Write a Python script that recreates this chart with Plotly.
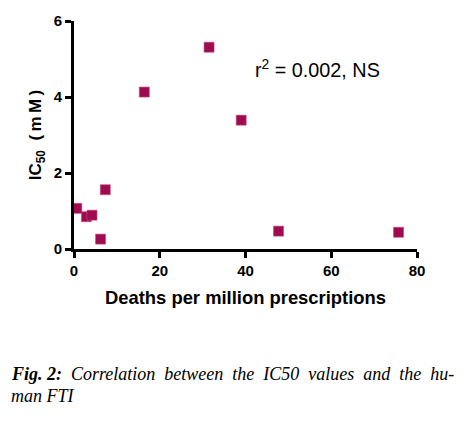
import plotly.graph_objects as go

deaths = [0.65, 2.9, 4.2, 6.2, 7.3, 16.4, 31.5, 39.0, 47.7, 75.7]
ic50 = [1.07, 0.85, 0.89, 0.26, 1.56, 4.13, 5.31, 3.39, 0.47, 0.44]

x_ticks = [0, 20, 40, 60, 80]
y_ticks = [0, 2, 4, 6]

fig = go.Figure()
fig.add_trace(go.Scatter(
    x=deaths, y=ic50, mode="markers",
    marker=dict(symbol="square", size=10, color="#9E0B4E",
                line=dict(width=0.6, color="#C04A7A")),
    showlegend=False, cliponaxis=False,
))

sans = "Arial, Liberation Sans, sans-serif"
axis_font = dict(family=sans, size=15, color="black")

fig.update_layout(
    width=456, height=410,
    margin=dict(l=65.5, r=46.7, t=13, b=169, autoexpand=False),
    paper_bgcolor="white", plot_bgcolor="white",
    font=dict(family=sans, color="black"),
    xaxis=dict(
        range=[0, 80], tickvals=x_ticks, ticktext=[f"<b>{v}</b>" for v in x_ticks],
        showgrid=False, zeroline=False, showline=True, linewidth=3, linecolor="black",
        ticks="outside", ticklen=6, tickwidth=3, tickcolor="black",
        tickfont=axis_font,
        title=dict(text="<b>Deaths per million prescriptions</b>",
                   font=dict(family=sans, size=18.4, color="black"),
                   standoff=14),
        automargin=False,
    ),
    yaxis=dict(
        range=[0, 6], tickvals=y_ticks, ticktext=[f"<b>{v}</b>" for v in y_ticks],
        showgrid=False, zeroline=False, showline=True, linewidth=3, linecolor="black",
        ticks="outside", ticklen=6, tickwidth=3, tickcolor="black",
        tickfont=axis_font,
        title=dict(text="<b>IC<sub>50</sub>&nbsp;&nbsp;(&#8201;m&#8201;M&#8201;)</b>",
                   font=dict(family=sans, size=17, color="black"),
                   standoff=8),
        automargin=False,
    ),
)

fig.add_annotation(
    x=41.8, y=4.76, xref="x", yref="y", xanchor="left", yanchor="middle",
    text="r<sup>2</sup> = 0.002, NS", showarrow=False,
    font=dict(family=sans, size=19.8, color="black"),
)

cap_font = dict(family="Times New Roman, Liberation Serif, serif", size=18, color="black")
fig.add_annotation(
    x=-0.19, y=-0.548, xref="paper", yref="paper", xanchor="left", yanchor="middle",
    text="<b><i>Fig. 2:</i></b><i> &nbsp;Correlation &nbsp;between &nbsp;the &nbsp;IC50 &nbsp;values &nbsp;and &nbsp;the &nbsp;hu-</i>",
    showarrow=False, font=cap_font, align="left",
)
fig.add_annotation(
    x=-0.19, y=-0.645, xref="paper", yref="paper", xanchor="left", yanchor="middle",
    text="<i>man FTI</i>", showarrow=False, font=cap_font, align="left",
)

fig.write_html("out.html")
